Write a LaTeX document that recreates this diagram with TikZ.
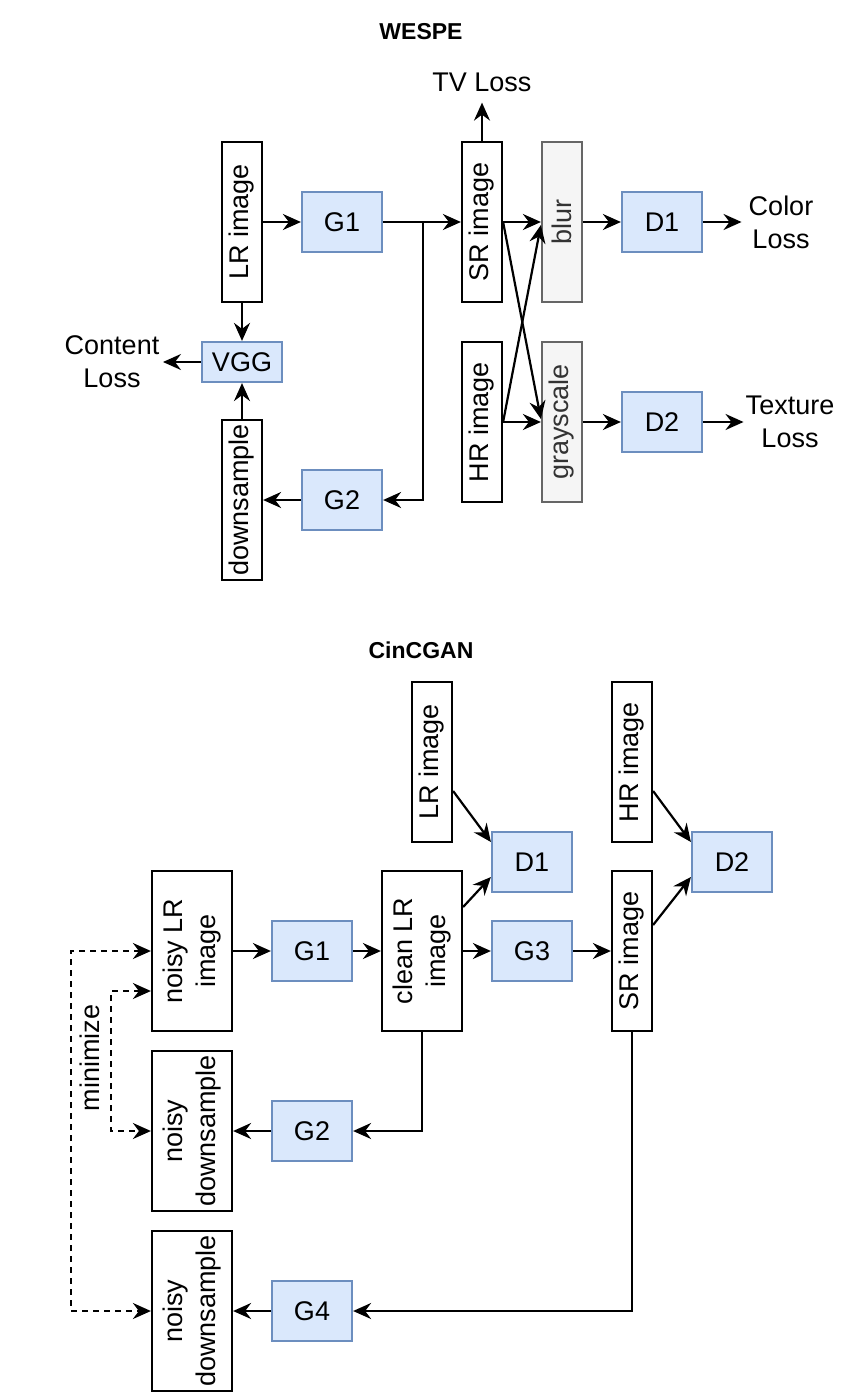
\documentclass[tikz,border=0pt]{standalone}
\usepackage{fontspec}
\usepackage{graphicx}
\setmainfont{Liberation Sans}
\usetikzlibrary{arrows.meta,calc}
\definecolor{bfill}{HTML}{DAE8FC}
\definecolor{bdraw}{HTML}{6C8EBF}
\definecolor{gfill}{HTML}{F5F5F5}
\definecolor{gdraw}{HTML}{666666}
\definecolor{gtext}{HTML}{333333}
\newcommand{\rt}[1]{\rotatebox{90}{#1}}
\newcommand{\rtt}[2]{\rotatebox{90}{\begin{tabular}{@{}c@{}}#1\\#2\end{tabular}}}
\begin{document}
\begin{tikzpicture}[x=1pt,y=-1pt,
  every node/.style={font=\fontsize{27}{33}\selectfont},
  box/.style={draw=black, line width=2.2pt, inner sep=0pt, fill=white},
  vbox/.style={box, minimum width=40pt, minimum height=160pt},
  wbox/.style={box, minimum width=80pt, minimum height=160pt},
  blk/.style={draw=bdraw, fill=bfill, line width=2.2pt, minimum width=80pt, minimum height=60pt, inner sep=0pt},
  gbox/.style={vbox, draw=gdraw, fill=gfill, text=gtext},
  ttl/.style={font=\bfseries\fontsize{23}{28}\selectfont},
  losstxt/.style={align=center, inner ysep=0pt},
  tip/.style={Stealth[length=18pt,width=16pt,inset=6pt]},
  arr/.style={-{Stealth[length=18pt,width=16pt,inset=6pt]}, line width=2.2pt},
  darr/.style={{Stealth[length=18pt,width=16pt,inset=6pt]}-{Stealth[length=18pt,width=16pt,inset=6pt]}, line width=2.2pt, dash pattern=on 6pt off 5pt}
]
\useasboundingbox (0,0) rectangle (845,1400);

% ---------------- WESPE ----------------
\node[ttl] (t1) at (421,32) {WESPE};
\node[vbox] (lrw) at (242,222) {\rt{LR image}};
\node[blk] (g1w) at (342,222) {G1};
\node[vbox] (srw) at (482,222) {\rt{SR image}};
\node[gbox] (blur) at (562,222) {\rt{blur}};
\node[blk] (d1w) at (662,222) {D1};
\node[losstxt, inner xsep=7pt] (color) at (781,222) {Color\\Loss};
\node[inner xsep=0pt, inner ysep=11pt] (tv) at (482,82) {TV Loss};
\node[blk, minimum height=40pt] (vgg) at (242,362) {VGG};
\node[losstxt, inner xsep=3.5pt] (content) at (112,362) {Content\\Loss};
\node[vbox] (down) at (242,500) {\rt{downsample}};
\node[blk] (g2w) at (342,500) {G2};
\node[vbox] (hrw) at (482,422) {\rt{HR image}};
\node[gbox] (gray) at (562,422) {\rt{grayscale}};
\node[blk] (d2w) at (662,422) {D2};
\node[losstxt, inner xsep=2pt] (texture) at (790,422) {Texture\\Loss};

\draw[arr] (lrw.east) -- (g1w.west);
\draw[arr] (g1w.east) -- (srw.west);
\draw[arr] (g1w.east) -- ($(g1w.east)+(40,0)$) |- (g2w.east);
\draw[arr] (srw.north) -- (tv.south);
\draw[arr] (srw.east) -- (blur.west);
\draw[arr] (srw.east) -- ($(gray.west)+(0,-3)$);
\draw[arr] (hrw.east) -- ($(blur.west)+(0,3)$);
\draw[arr] (hrw.east) -- (gray.west);
\draw[arr] (blur.east) -- (d1w.west);
\draw[arr] (gray.east) -- (d2w.west);
\draw[arr] (d1w.east) -- (color.west);
\draw[arr] (d2w.east) -- (texture.west);
\draw[arr] (lrw.south) -- (vgg.north);
\draw[arr] (down.north) -- (vgg.south);
\draw[arr] (vgg.west) -- (content.east);
\draw[arr] (g2w.west) -- (down.east);

% ---------------- CinCGAN ----------------
\node[ttl] (t2) at (421,650) {CinCGAN};
\node[vbox] (lrc) at (432,762) {\rt{LR image}};
\node[vbox] (hrc) at (632,762) {\rt{HR image}};
\node[blk] (d1c) at (532,862) {D1};
\node[blk] (d2c) at (732,862) {D2};
\node[wbox] (noisy) at (192,951) {\rtt{noisy LR}{image}};
\node[blk] (g1c) at (312,951) {G1};
\node[wbox] (clean) at (422,951) {\rtt{clean LR}{image}};
\node[blk] (g3c) at (532,951) {G3};
\node[vbox] (src) at (632,951) {\rt{SR image}};
\node[wbox] (nd1) at (192,1131) {\rtt{noisy}{downsample}};
\node[blk] (g2c) at (312,1131) {G2};
\node[wbox] (nd2) at (192,1311) {\rtt{noisy}{downsample}};
\node[blk] (g4c) at (312,1311) {G4};
\node (mini) at (90,1058) {\rt{minimize}};

\draw[arr] ($(lrc.east)+(0,29)$) -- ($(d1c.west)+(0,-20)$);
\draw[arr] ($(clean.east)+(0,-44)$) -- ($(d1c.west)+(0,15)$);
\draw[arr] ($(hrc.east)+(0,29)$) -- ($(d2c.west)+(0,-20)$);
\draw[arr] ($(src.east)+(0,-26)$) -- ($(d2c.west)+(0,15)$);
\draw[arr] (noisy.east) -- (g1c.west);
\draw[arr] (g1c.east) -- (clean.west);
\draw[arr] (clean.east) -- (g3c.west);
\draw[arr] (g3c.east) -- (src.west);
\draw[arr] (clean.south) |- (g2c.east);
\draw[arr] (g2c.west) -- (nd1.east);
\draw[arr] (src.south) |- (g4c.east);
\draw[arr] (g4c.west) -- (nd2.east);
\draw[darr] (noisy.west) -- ++(-80,0) |- (nd2.west);
\draw[darr] ($(noisy.west)+(0,40)$) -- ++(-40,0) |- (nd1.west);
\end{tikzpicture}
\end{document}
